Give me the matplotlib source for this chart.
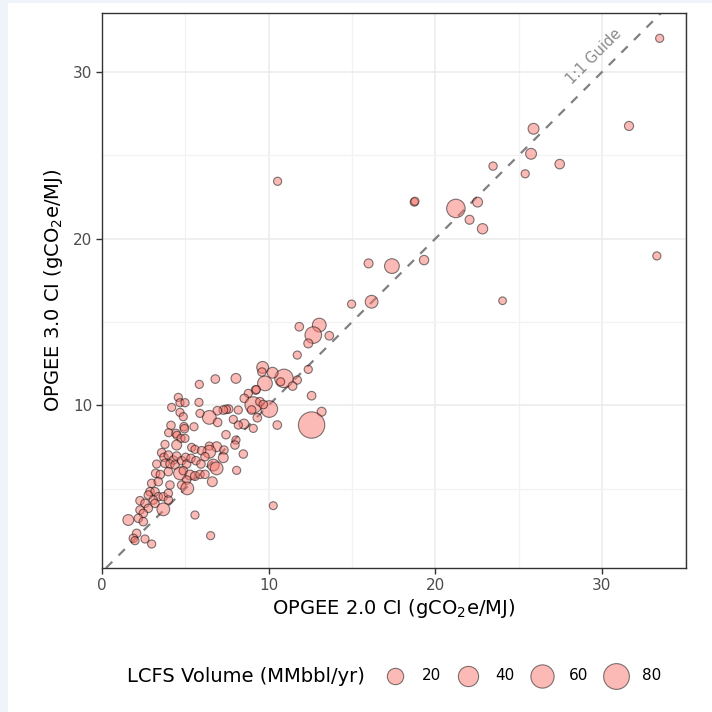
#Scatter of OPGEE 3.0 vs OPGEE 2.0 carbon intensity, sized by LCFS volume
import numpy as np
import matplotlib
matplotlib.use('Agg')
import matplotlib.pyplot as plt
from matplotlib.patches import Rectangle

#OPGEE 2.0 CI (x), OPGEE 3.0 CI (y), LCFS volume (MMbbl/yr)
ci_v2 = [33.47, 31.63, 25.9, 25.75, 27.47, 23.47, 25.4, 18.74, 18.78, 21.24,
         22.54, 22.06, 22.84, 33.3, 16.0, 17.4, 19.33, 16.18, 24.04, 14.98,
         10.54, 13.04, 11.84, 12.68, 12.38, 13.64, 11.72, 12.38, 10.92, 10.72,
         11.72, 11.44, 12.58, 13.18, 12.58, 10.52, 9.64, 9.6, 10.24, 9.78,
         9.22, 9.26, 8.78, 8.54, 9.08, 10.04, 9.48, 9.68, 8.98, 9.32,
         8.52, 9.08, 8.18, 7.88, 8.18, 7.6, 7.45, 7.28, 6.92, 6.44,
         6.94, 6.8, 8.04, 5.84, 4.58, 4.68, 4.98, 5.82, 4.18, 4.68,
         4.88, 5.88, 4.14, 4.92, 4.95, 5.52, 4.0, 4.44, 4.5, 4.74,
         4.98, 3.78, 4.48, 7.44, 8.04, 7.98, 6.88, 7.32, 8.48, 7.28,
         6.68, 6.88, 8.08, 5.38, 5.58, 6.44, 6.44, 5.98, 3.58, 3.72,
         3.98, 4.28, 4.48, 3.78, 4.08, 4.38, 4.78, 5.02, 5.08, 5.34,
         5.64, 5.94, 6.18, 3.28, 3.98, 4.68, 4.88, 5.28, 5.58, 5.88,
         6.18, 6.62, 5.08, 4.78, 5.12, 4.08, 3.22, 3.5, 2.98, 3.38,
         2.88, 3.18, 3.38, 2.78, 3.08, 3.68, 3.98, 3.98, 3.18, 3.68,
         2.28, 2.58, 2.78, 2.28, 2.48, 2.18, 1.58, 2.48, 5.58, 2.08,
         1.88, 1.98, 2.58, 2.98, 6.52, 10.28]
ci_v3 = [32.03, 26.77, 26.6, 25.1, 24.48, 24.36, 23.9, 22.2, 22.25, 21.82,
         22.2, 21.14, 20.6, 18.97, 18.52, 18.36, 18.72, 16.22, 16.28, 16.08,
         23.45, 14.82, 14.72, 14.22, 13.72, 14.18, 13.02, 12.16, 11.62, 11.42,
         11.52, 11.16, 10.58, 9.62, 8.82, 8.82, 12.28, 12.0, 11.96, 11.32,
         10.92, 10.95, 10.72, 10.42, 10.02, 9.78, 10.22, 10.05, 9.72, 9.26,
         8.88, 8.62, 8.82, 9.16, 9.72, 9.78, 9.76, 9.72, 9.68, 9.28,
         8.98, 11.58, 11.62, 11.26, 10.48, 10.16, 10.16, 10.18, 9.88, 9.58,
         9.32, 9.52, 8.8, 8.72, 8.6, 8.72, 8.36, 8.32, 8.2, 8.02,
         8.02, 7.66, 7.62, 8.24, 7.92, 7.62, 7.52, 7.32, 7.08, 6.86,
         6.42, 6.22, 6.1, 7.48, 7.36, 7.56, 7.22, 7.28, 7.16, 6.88,
         7.02, 6.72, 6.96, 6.52, 6.48, 6.42, 6.68, 6.88, 6.48, 6.82,
         6.68, 6.48, 6.92, 6.48, 6.02, 5.92, 6.08, 5.82, 5.76, 5.86,
         5.86, 5.42, 5.52, 5.22, 5.02, 5.22, 5.92, 5.85, 5.32, 5.42,
         4.82, 4.82, 4.52, 4.62, 4.32, 4.52, 4.72, 4.32, 4.12, 3.76,
         4.28, 4.12, 3.82, 3.72, 3.52, 3.22, 3.12, 3.02, 3.42, 2.32,
         2.02, 1.88, 1.98, 1.68, 2.18, 3.98]
volume = [0.3, 1.0, 3.4, 3.4, 1.5, 0.4, 0.3, 0.3, 0.3, 30,
          1.9, 0.9, 2.5, 0.3, 0.9, 13.6, 1.3, 7.6, 0.1, 0.3,
          0.3, 10.4, 0.6, 21, 0.9, 0.6, 0.3, 0.3, 30, 0.3,
          0.4, 0.6, 0.6, 0.9, 85, 0.6, 5.3, 0.5, 3.4, 13.6,
          0.6, 0.3, 0.3, 0.6, 21, 21, 0.6, 0.6, 0.6, 0.6,
          1.9, 0.3, 0.3, 0.3, 0.3, 0.6, 0.6, 0.6, 0.6, 10.4,
          0.6, 0.6, 1.9, 0.3, 0.3, 0.3, 0.3, 0.3, 0.3, 0.3,
          0.3, 0.3, 0.5, 0.5, 0.5, 0.3, 0.3, 0.5, 0.3, 0.3,
          0.3, 0.3, 1.9, 0.5, 0.3, 0.5, 1.9, 0.5, 0.5, 1.9,
          5.3, 7.6, 0.3, 0.3, 0.3, 0.3, 7.6, 0.5, 0.5, 0.5,
          0.5, 0.5, 0.5, 0.5, 0.5, 0.5, 0.5, 0.5, 0.5, 0.5,
          0.5, 0.5, 0.5, 0.3, 0.5, 7.6, 0.5, 1.9, 0.9, 0.5,
          0.5, 1.9, 0.5, 0.5, 7.6, 0.5, 0.5, 0.5, 0.5, 0.5,
          0.5, 0.5, 0.5, 0.5, 0.5, 0.5, 0.5, 0.5, 0.5, 7.6,
          0.5, 0.5, 0.5, 0.5, 0.5, 0.5, 3.4, 0.5, 0.3, 0.5,
          0.5, 0.3, 0.3, 0.3, 0.3, 0.2]

legend_volumes = [20, 40, 60, 80]

plt.rcParams['font.family'] = ['DejaVu Sans']
plt.rcParams['mathtext.fontset'] = 'dejavusans'

DPI = 100

#point diameter in pixels grows with sqrt of volume, as in ggplot's scale_size
def marker_area(v):
    d_px = 7 + 2.1 * np.sqrt(np.asarray(v, dtype=float))
    d_pt = d_px * 72.0 / DPI
    return d_pt ** 2

fig = plt.figure(figsize=(7.12, 7.12), dpi=DPI)
fig.patch.set_facecolor('white')
#light strips at the left and top edges
fig.patches.append(Rectangle((0, 0), 8 / 712, 1, transform=fig.transFigure,
                             facecolor='#EEF4FA', edgecolor='none', zorder=0))
fig.patches.append(Rectangle((0, 1 - 3 / 712), 1, 3 / 712, transform=fig.transFigure,
                             facecolor='#EEF4FA', edgecolor='none', zorder=0))

ax = fig.add_axes([102 / 712, 1 - 568 / 712, 584 / 712, 555 / 712])
ax.set_xlim(0, 35.05)
ax.set_ylim(0.24, 33.55)

ax.set_xticks([0, 10, 20, 30])
ax.set_yticks([10, 20, 30])
ax.set_xticks([5, 15, 25, 35], minor=True)
ax.set_yticks([5, 15, 25], minor=True)
ax.grid(which='major', color='#EBEBEB', linewidth=1.1)
ax.grid(which='minor', color='#F2F2F2', linewidth=0.9)
ax.set_axisbelow(True)
ax.tick_params(which='minor', length=0)
ax.tick_params(which='major', length=4, width=1, color='#333333',
               labelsize=11, labelcolor='#4D4D4D', pad=3)
for sp in ax.spines.values():
    sp.set_color('#333333')
    sp.set_linewidth(1.0)

#1:1 guide
ax.axline((0, 0), slope=1, color='#808080', linestyle=(0, (4, 4)), linewidth=1.6, zorder=1)
ax.text(29.5, 30.95, '1:1 Guide', rotation=45, ha='center', va='center',
        color='#8A8A8A', fontsize=10.5)

ax.scatter(ci_v2, ci_v3, s=marker_area(volume), color='#F8766D', edgecolors='black',
           linewidths=0.8, alpha=0.5, zorder=3)

ax.set_xlabel(r'OPGEE 2.0 CI (gCO$_2$e/MJ)', fontsize=14, labelpad=3)
ax.set_ylabel(r'OPGEE 3.0 CI (gCO$_2$e/MJ)', fontsize=14, labelpad=6)

#size legend
handles = [ax.scatter([], [], s=marker_area(v), color='#F8766D', edgecolors='black',
                      linewidths=0.8, alpha=0.5) for v in legend_volumes]
fig.text(127 / 712, 1 - 676 / 712, 'LCFS Volume (MMbbl/yr)', fontsize=14,
         ha='left', va='center')
fig.legend(handles, [str(v) for v in legend_volumes], loc='center left',
           bbox_to_anchor=(372 / 712, 1 - 676 / 712), ncol=4, frameon=False,
           fontsize=11, handletextpad=0.75, columnspacing=0.8, borderpad=0)

fig.savefig('out.png', dpi=DPI)
